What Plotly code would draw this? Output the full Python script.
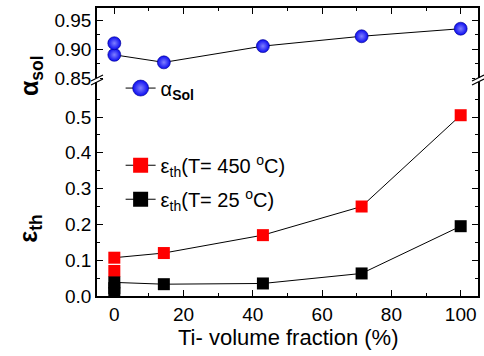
import plotly.graph_objects as go

# Data
ti_fraction = [0, 14.3, 42.9, 71.4, 100]
alpha_sol = [0.890, 0.877, 0.905, 0.922, 0.935]
alpha_sol_extra_x = [0]
alpha_sol_extra = [0.910]

eps_450 = [0.107, 0.120, 0.170, 0.250, 0.505]
eps_450_extra_x = [0]
eps_450_extra = [0.070]

eps_25 = [0.038, 0.033, 0.035, 0.063, 0.195]
eps_25_extra_x = [0, 0]
eps_25_extra = [0.022, 0.008]

eps_ticks = [0.0, 0.1, 0.2, 0.3, 0.4, 0.5]
alpha_ticks = [0.85, 0.90, 0.95]
x_ticks = [0, 20, 40, 60, 80, 100]

FONT = "Liberation Sans, Arial, sans-serif"
BLUE = "#0a0af0"

fig = go.Figure()

sphere = dict(symbol="circle", size=13, color=BLUE,
              gradient=dict(type="radial", color="#8080ff"),
              line=dict(width=0.6, color="#00008c"))

# alpha_sol (top panel)
fig.add_trace(go.Scatter(x=ti_fraction, y=alpha_sol, mode="lines+markers",
                         line=dict(color="black", width=1), marker=sphere,
                         xaxis="x2", yaxis="y2", showlegend=False))
fig.add_trace(go.Scatter(x=alpha_sol_extra_x, y=alpha_sol_extra, mode="markers",
                         marker=sphere, xaxis="x2", yaxis="y2", showlegend=False))

sq_red = dict(symbol="square", size=12, color="#ff0000", line=dict(width=0))
sq_blk = dict(symbol="square", size=12, color="#000000", line=dict(width=0))

fig.add_trace(go.Scatter(x=eps_450_extra_x, y=eps_450_extra, mode="markers",
                         marker=sq_red, showlegend=False))
fig.add_trace(go.Scatter(x=ti_fraction, y=eps_450, mode="lines+markers",
                         line=dict(color="black", width=1), marker=sq_red,
                         showlegend=False))
fig.add_trace(go.Scatter(x=eps_25_extra_x, y=eps_25_extra, mode="markers",
                         marker=sq_blk, showlegend=False))
fig.add_trace(go.Scatter(x=ti_fraction, y=eps_25, mode="lines+markers",
                         line=dict(color="black", width=1), marker=sq_blk,
                         showlegend=False))

# legend-only entries
leg_sphere = dict(sphere, size=16)
fig.add_trace(go.Scatter(x=[None], y=[None], mode="lines+markers", name="α<sub><b>Sol</b></sub>",
                         line=dict(color="black", width=1), marker=leg_sphere,
                         legend="legend"))
fig.add_trace(go.Scatter(x=[None], y=[None], mode="lines+markers",
                         name="ε<sub>th</sub>(T= 450 <sup>o</sup>C)", legendgroup="a",
                         line=dict(color="black", width=1), marker=dict(sq_red, size=15),
                         legend="legend2"))
fig.add_trace(go.Scatter(x=[None], y=[None], mode="lines+markers",
                         name="ε<sub>th</sub>(T= 25 <sup>o</sup>C)", legendgroup="b",
                         line=dict(color="black", width=1), marker=dict(sq_blk, size=15),
                         legend="legend2"))

BREAK = 0.75
tickfont = dict(family=FONT, size=19, color="black")
common_axis = dict(showline=True, linecolor="black", linewidth=1.5, ticks="inside",
                   ticklen=6, tickwidth=1.2, tickcolor="black", showgrid=False,
                   zeroline=False, tickfont=tickfont, automargin=False)

fig.update_layout(
    width=484, height=356,
    margin=dict(l=97, r=6, t=8, b=60, autoexpand=False),
    paper_bgcolor="white", plot_bgcolor="white",
    font=dict(family=FONT, color="black"),
    xaxis=dict(common_axis, range=[-5, 105], tickvals=x_ticks, anchor="y",
               minor=dict(dtick=10, tick0=0, ticks="inside", ticklen=3, tickcolor="black")),
    xaxis2=dict(common_axis, range=[-5, 105], tickvals=x_ticks, anchor="y2",
                side="top", showticklabels=False, matches="x",
                minor=dict(dtick=10, tick0=0, ticks="inside", ticklen=3, tickcolor="black")),
    yaxis=dict(common_axis, domain=[0, BREAK], range=[0, 0.6034], tickvals=eps_ticks,
               tickformat=".1f", mirror="ticks", anchor="x",
               minor=dict(dtick=0.05, tick0=0, ticks="inside", ticklen=3, tickcolor="black")),
    yaxis2=dict(common_axis, domain=[BREAK, 1], range=[0.8466, 0.9707], tickvals=alpha_ticks,
                tickformat=".2f", mirror="ticks", anchor="x2",
                minor=dict(dtick=0.025, tick0=0.85, ticks="inside", ticklen=3, tickcolor="black")),
    legend=dict(x=0.062, y=0.722, xanchor="left", yanchor="middle",
                bgcolor="rgba(0,0,0,0)", font=dict(family=FONT, size=20, color="black"),
                itemsizing="trace"),
    legend2=dict(x=0.062, y=0.395, xanchor="left", yanchor="middle",
                 bgcolor="rgba(0,0,0,0)", font=dict(family=FONT, size=20, color="black"),
                 itemsizing="trace", tracegroupgap=5),
)

# x title
fig.add_annotation(text="Ti- volume fraction (%)", xref="paper", yref="paper",
                   x=0.5, y=-0.145, showarrow=False, xanchor="center", yanchor="middle",
                   font=dict(family=FONT, size=22, color="black"))

# y titles as annotations
fig.add_annotation(text="<b>α<sub>sol</sub></b>", xref="paper", yref="paper",
                   x=-0.175, y=0.765, textangle=-90, showarrow=False,
                   font=dict(family=FONT, size=25, color="black"), xanchor="center", yanchor="middle")
fig.add_annotation(text="<b>ε<sub>th</sub></b>", xref="paper", yref="paper",
                   x=-0.175, y=0.235, textangle=-90, showarrow=False,
                   font=dict(family=FONT, size=25, color="black"), xanchor="center", yanchor="middle")

# axis break marks
for xa in (0, 1):
    fig.add_shape(type="rect", xref="paper", yref="paper", xsizemode="pixel", ysizemode="pixel",
                  xanchor=xa, yanchor=BREAK, x0=-3, x1=3, y0=-2, y1=2,
                  fillcolor="white", line=dict(width=0), layer="above")
    for dy in (-2, 2):
        fig.add_shape(type="line", xref="paper", yref="paper", xsizemode="pixel", ysizemode="pixel",
                      xanchor=xa, yanchor=BREAK, x0=-6, x1=6, y0=dy - 3, y1=dy + 3,
                      line=dict(color="black", width=1.2), layer="above")

fig.write_html("out.html", config={"displayModeBar": False},
               post_script="document.body.style.margin='0';document.body.style.overflow='hidden';")
